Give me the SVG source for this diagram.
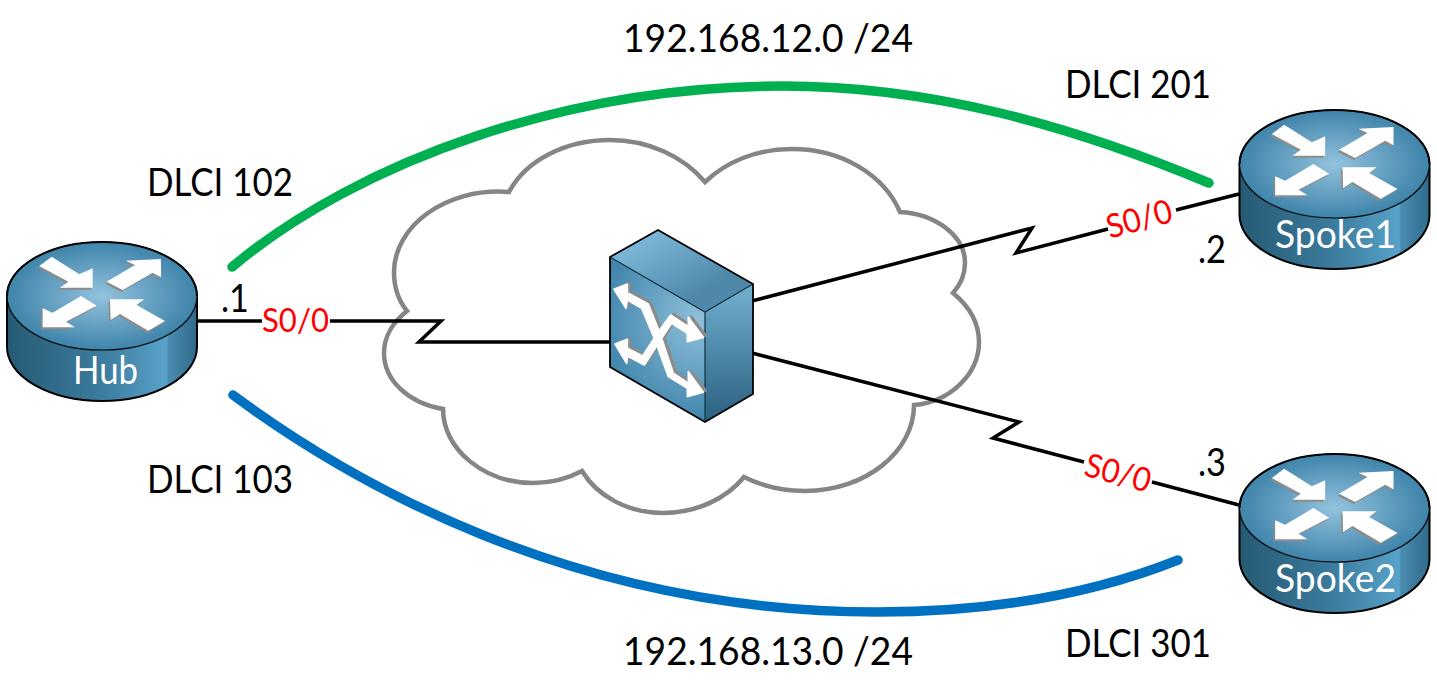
<svg xmlns="http://www.w3.org/2000/svg" xmlns:xlink="http://www.w3.org/1999/xlink" width="1437" height="698" viewBox="0 0 1437 698">
<style>
text{font-family:"Lato","Open Sans","Liberation Sans",sans-serif}
.t{font-size:38px;fill:#000}
.n{font-size:38px;fill:#fff}
.s{font-size:33px;fill:#ff0000}
.w{fill:none;stroke:#000;stroke-width:3.5;stroke-linejoin:miter}
.pvc{fill:none;stroke-width:9.5;stroke-linecap:round}
.edge{stroke:#12303f;stroke-width:1.2}
</style>
<defs>
<radialGradient id="rTop" gradientUnits="userSpaceOnUse" cx="0" cy="0" r="95" gradientTransform="scale(1 .57)"><stop offset="0" stop-color="#93c2dd"/><stop offset="1" stop-color="#3f84aa"/></radialGradient>
<linearGradient id="rSide" x1="0" x2="1" y1="0" y2="0"><stop offset="0" stop-color="#265a73"/><stop offset=".5" stop-color="#3c7c9e"/><stop offset=".84" stop-color="#58a2c9"/><stop offset=".85" stop-color="#4a8cb0"/><stop offset="1" stop-color="#2f6a8a"/></linearGradient>
<linearGradient id="swTop" x1="0" y1="0" x2="1" y2="1"><stop offset=".1" stop-color="#82bcdc"/><stop offset=".7" stop-color="#4f88a8"/></linearGradient>
<radialGradient id="swFront" gradientUnits="userSpaceOnUse" cx="700" cy="320" r="110"><stop offset="0" stop-color="#8fc0da"/><stop offset="1" stop-color="#3a80a8"/></radialGradient>
<linearGradient id="swSide" x1="0" x2="0" y1="0" y2="1"><stop offset="0" stop-color="#74b0d0"/><stop offset="1" stop-color="#2a6080"/></linearGradient>
<g id="rArrows" transform="scale(.3333) translate(-306,-168)">
<polygon points="118,78 155,50 238,103 278,85 278,143 180,143 205,125"/>
<polygon points="320,125 405,75 378,62 483,57 483,112 458,98 368,150"/>
<polygon points="290,197 243,168 158,218 128,205 128,262 225,262 198,245"/>
<polygon points="330,178 432,178 410,195 495,243 445,272 360,222 332,240"/>
</g>
<g id="router">
<path d="M-95,0V51A95,54 0 0 0 95,51V0Z" fill="url(#rSide)" stroke="#000" stroke-width="2"/>
<ellipse rx="95" ry="54" fill="url(#rTop)" stroke="#000" stroke-width="1.2"/>
<path d="M-95,0A95,54 0 0 1 95,0" fill="none" stroke="#000" stroke-width="2"/>
<use xlink:href="#rArrows" href="#rArrows" x="-1.5" y="2" fill="#8c8c8c"/>
<use xlink:href="#rArrows" href="#rArrows" fill="#fff"/>
</g>
<g id="swArrows" transform="translate(590,220) scale(.3333)" stroke-width="5" stroke-linejoin="round">
<polygon points="72,208 112,192 112,218 175,252 210,340 250,460 295,490 295,455 340,517 292,530 292,505 235,470 195,360 155,265 112,240 108,265"/>
<polygon points="75,372 112,358 112,385 158,408 205,335 242,285 295,320 295,292 340,352 292,365 292,340 245,310 205,370 163,435 112,408 110,430"/>
</g>
</defs>
<rect width="1437" height="698" fill="#fff"/>
<g id="cloud"><path d="M509,192C526,160 566,140 610,140C648,140 683,156 705,182C726,162 756,149 792,149C842,149 884,175 900,212C935,214 965,235 965,263C965,274 961,284 953,293C970,307 979,324 979,342C979,374 950,402 914,405C914,452 865,491 805,491C784,491 762,486 744,477C727,498 697,513 663,513C628,513 597,496 582,471C567,479 551,483 533,483C485,483 443,450 443,409C408,403 384,380 384,353C384,337 393,322 407,311C398,300 394,286 394,272C394,227 445,187 509,192Z" fill="none" stroke="#858585" stroke-width="4.5" stroke-linejoin="miter"/></g>
<g id="connectors">
<path class="w" d="M197,321H262M330,321H441L419,342H610"/>
<path class="w" d="M752,301L1032,228L1016,253L1108,229M1176,210L1239,194"/>
<path class="w" d="M752,353L1019,422L993,438L1084,462M1152,482L1239,505"/>
<path class="pvc" stroke="#00b050" d="M232,267C360,160 570,86 783,86C930,86 1070,125 1209,183"/>
<path class="pvc" stroke="#0070c0" d="M233,395C345,478 570,612 877,612C985,612 1085,597 1178,560"/>
</g>
<g id="hub"><use xlink:href="#router" href="#router" x="102" y="296"/><text class="n" x="105.500" y="384" text-anchor="middle" textLength="65" lengthAdjust="spacingAndGlyphs">Hub</text></g>
<g id="spoke1"><use xlink:href="#router" href="#router" x="1334.500" y="164"/><text class="n" x="1335.500" y="248" text-anchor="middle" textLength="121" lengthAdjust="spacingAndGlyphs">Spoke1</text></g>
<g id="spoke2"><use xlink:href="#router" href="#router" x="1334.500" y="508"/><text class="n" x="1335.500" y="592" text-anchor="middle" textLength="121" lengthAdjust="spacingAndGlyphs">Spoke2</text></g>
<g id="switch">
<polygon points="610,257 658,230 753,284 705,312" fill="url(#swTop)"/>
<polygon points="610,257 705,312 705,422 610,367" fill="url(#swFront)"/>
<polygon points="705,312 753,284 753,394 705,422" fill="url(#swSide)"/>
<path class="edge" d="M610,257L705,312L753,284M705,312V422" fill="none"/>
<polygon points="610,257 658,230 753,284 753,394 705,422 610,367" fill="none" stroke="#000" stroke-width="1.8"/>
<use xlink:href="#swArrows" href="#swArrows" x="3" y="-1.500" fill="#8c8c8c" stroke="#8c8c8c"/>
<use xlink:href="#swArrows" href="#swArrows" fill="#fff" stroke="#fff"/>
</g>
<g id="labels">
<text class="t" x="623" y="52" textLength="290" lengthAdjust="spacingAndGlyphs">192.168.12.0 /24</text>
<text class="t" x="1065" y="98" textLength="146" lengthAdjust="spacingAndGlyphs">DLCI 201</text>
<text class="t" x="147" y="196" textLength="146" lengthAdjust="spacingAndGlyphs">DLCI 102</text>
<text class="t" x="147" y="493" textLength="146" lengthAdjust="spacingAndGlyphs">DLCI 103</text>
<text class="t" x="623" y="665" textLength="290" lengthAdjust="spacingAndGlyphs">192.168.13.0 /24</text>
<text class="t" x="1065" y="657" textLength="146" lengthAdjust="spacingAndGlyphs">DLCI 301</text>
<text class="t" x="221" y="312" textLength="28" lengthAdjust="spacingAndGlyphs">.1</text>
<text class="t" x="1198" y="263" textLength="28" lengthAdjust="spacingAndGlyphs">.2</text>
<text class="t" x="1198" y="476" textLength="28" lengthAdjust="spacingAndGlyphs">.3</text>
<text class="s" x="262" y="332" textLength="67" lengthAdjust="spacingAndGlyphs">S0/0</text>
<text class="s" transform="translate(1142,230) rotate(-15)" text-anchor="middle" textLength="67" lengthAdjust="spacingAndGlyphs">S0/0</text>
<text class="s" transform="translate(1115,484) rotate(15)" text-anchor="middle" textLength="67" lengthAdjust="spacingAndGlyphs">S0/0</text>
</g>
</svg>
